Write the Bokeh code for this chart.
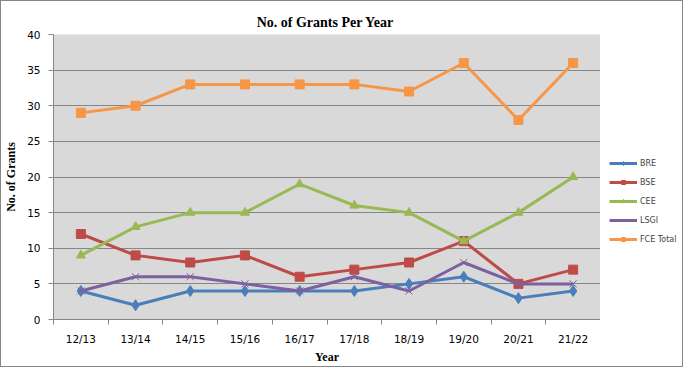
from bokeh.plotting import figure
from bokeh.models import Range1d, FixedTicker, Legend, LegendItem
from bokeh.layouts import row
from bokeh.embed import file_html
from bokeh.resources import INLINE

years = ["12/13", "13/14", "14/15", "15/16", "16/17", "17/18", "18/19", "19/20", "20/21", "21/22"]
bre = [4, 2, 4, 4, 4, 4, 5, 6, 3, 4]
bse = [12, 9, 8, 9, 6, 7, 8, 11, 5, 7]
cee = [9, 13, 15, 15, 19, 16, 15, 11, 15, 20]
lsgi = [4, 6, 6, 5, 4, 6, 4, 8, 5, 5]
fce_total = [29, 30, 33, 33, 33, 33, 32, 36, 28, 36]
y_ticks = [0, 5, 10, 15, 20, 25, 30, 35, 40]

xs = list(range(1, len(years) + 1))

p = figure(frame_width=547, frame_height=285, output_backend="svg", toolbar_location=None,
           x_range=Range1d(0.5, len(years) + 0.5), y_range=Range1d(0, 40),
           min_border_left=47, min_border_top=33, min_border_bottom=40, min_border_right=0)

p.background_fill_color = "#D9D9D9"
p.border_fill_color = "white"
p.outline_line_color = None

p.title.text = "No. of Grants  Per Year"
p.title.text_font = "Liberation Serif"
p.title.text_font_size = "14px"
p.title.text_font_style = "bold"
p.title.align = "center"
p.title.text_color = "black"
p.title.standoff = 9

p.xgrid.grid_line_color = None
p.ygrid.grid_line_color = "#868686"
p.ygrid.grid_line_width = 1

p.xaxis.ticker = FixedTicker(ticks=xs, minor_ticks=[i + 0.5 for i in range(0, len(years) + 1)])
p.xaxis.major_label_overrides = {x: y for x, y in zip(xs, years)}
p.xaxis.major_tick_out = 0
p.xaxis.major_tick_in = 0
p.xaxis.minor_tick_out = 5
p.xaxis.minor_tick_in = 0
p.xaxis.minor_tick_line_color = "#868686"
p.xaxis.axis_label = "Year"

p.yaxis.ticker = FixedTicker(ticks=y_ticks, minor_ticks=[])
p.yaxis.major_tick_out = 5
p.yaxis.major_tick_in = 0
p.yaxis.axis_label = "No. of Grants"

for ax in (p.xaxis, p.yaxis):
    ax.axis_line_color = "#868686"
    ax.major_tick_line_color = "#868686"
    ax.major_label_text_font = "DejaVu Sans"
    ax.major_label_text_font_size = "10.5px"
    ax.major_label_text_color = "black"
    ax.axis_label_text_font = "Liberation Serif"
    ax.axis_label_text_font_size = "12px"
    ax.axis_label_text_font_style = "bold"
    ax.axis_label_text_color = "black"
p.xaxis.major_label_standoff = 8
p.xaxis.axis_label_standoff = 2
p.yaxis.major_label_standoff = 8
p.yaxis.axis_label_standoff = 6

series = [
    ("BRE", bre, "#4A7EBB", "diamond", 11),
    ("BSE", bse, "#BE4B48", "square", 9),
    ("CEE", cee, "#98B954", "triangle", 9),
    ("LSGI", lsgi, "#7D60A0", "x", 10),
    ("FCE Total", fce_total, "#F79646", "square", 9),
]

# legend panel as a separate narrow figure (its glyphs sit outside its visible range)
pl = figure(width=82, height=p.frame_height + 33 + 40, output_backend="svg", toolbar_location=None,
            x_axis_location=None, y_axis_location=None,
            x_range=Range1d(100, 101), y_range=Range1d(100, 101),
            min_border_left=0, min_border_right=0, min_border_top=0, min_border_bottom=0)
pl.outline_line_color = None
pl.xgrid.grid_line_color = None
pl.ygrid.grid_line_color = None
pl.background_fill_color = "white"
pl.border_fill_color = "white"

items = []
for name, vals, color, marker, size in series:
    p.line(xs, vals, line_color=color, line_width=3)
    if marker == "x":
        p.scatter(xs, vals, marker="x", size=size, line_color=color, line_width=1)
        m = pl.scatter(xs[:1], vals[:1], marker="x", size=7, line_color=color, line_width=1)
    else:
        p.scatter(xs, vals, marker=marker, size=size, fill_color=color, line_color=color)
        m = pl.scatter(xs[:1], vals[:1], marker=marker, size=6, fill_color=color, line_color=color)
    l = pl.line(xs[:2], vals[:2], line_color=color, line_width=3)
    items.append(LegendItem(label=name, renderers=[l, m]))

legend = Legend(items=items, location=(9, 68), border_line_color=None,
                background_fill_alpha=0, label_text_font="DejaVu Sans",
                label_text_font_size="8px", glyph_width=28, glyph_height=10,
                label_height=10, spacing=9, label_standoff=3, padding=2, margin=0)
pl.add_layout(legend, "center")

layout = row(p, pl, spacing=0)
layout.styles = {"border": "1px solid #868686"}

open("out.html", "w").write(file_html(layout, INLINE))
